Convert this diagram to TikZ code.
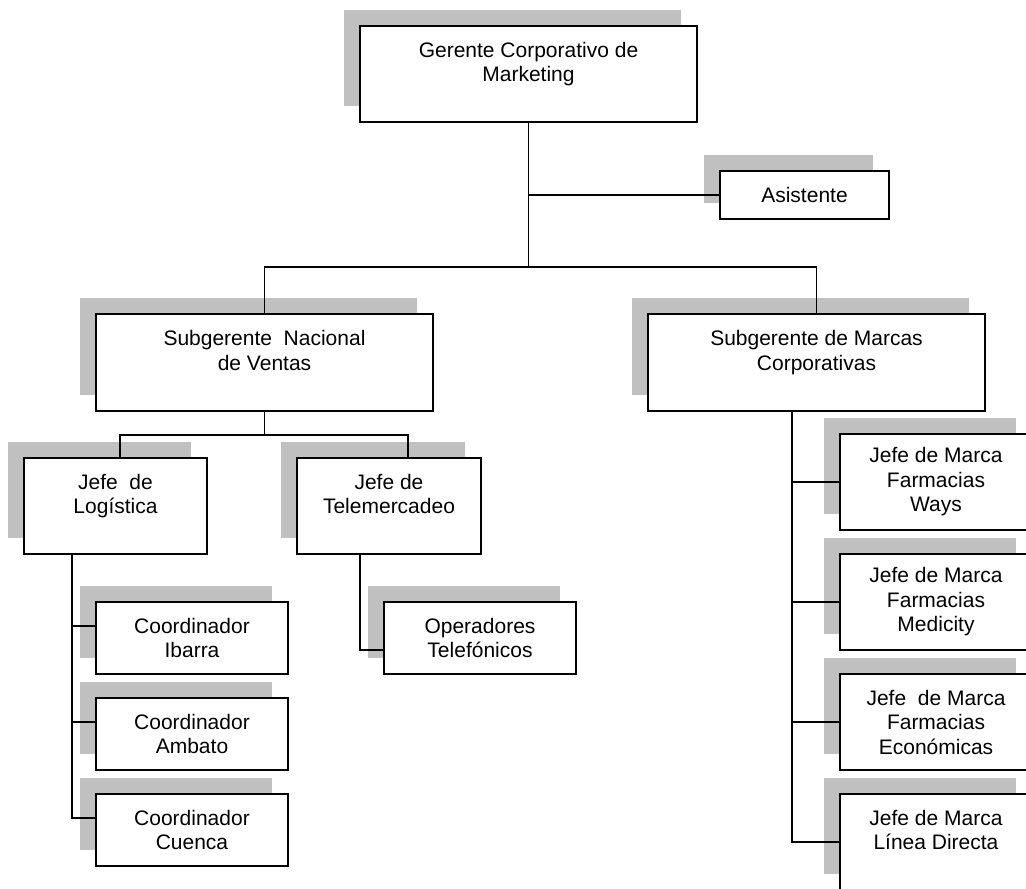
\documentclass[tikz,border=0pt]{standalone}
\usepackage{fontspec}
\setmainfont{Liberation Sans}
\usetikzlibrary{shadows}
\definecolor{shadowgray}{RGB}{192,192,192}

\begin{document}
\begin{tikzpicture}[x=1pt, y=-1pt, line width=1.8pt,
        box/.style={draw, fill=white, rectangle, align=center, inner sep=0pt,
            font=\fontsize{21}{24.5}\selectfont,
            drop shadow={shadow xshift=-16pt, shadow yshift=16pt, fill=shadowgray, opacity=1}}]
        \clip (0,0) rectangle (1026,889);

        \node[box, minimum width=337pt, minimum height=96pt] (gerente) at (528.5,74) {Gerente Corporativo de\\Marketing\\~};
        \node[box, minimum width=169pt, minimum height=48pt] (asist) at (804.5,195) {Asistente};
        \node[box, minimum width=337pt, minimum height=97pt] (snv) at (264.5,362.5) {Subgerente~ Nacional\\de Ventas\\~};
        \node[box, minimum width=337pt, minimum height=97pt] (smc) at (816.5,362.5) {Subgerente de Marcas\\Corporativas\\~};

        \node[box, minimum width=183pt, minimum height=96pt] (logist) at (115.5,506) {Jefe~ de\\Logística\\~};
        \node[box, minimum width=184pt, minimum height=96pt] (telem) at (389,506) {Jefe de\\Telemercadeo\\~};
        \node[box, minimum width=192pt, minimum height=72pt] (oper) at (480,638) {Operadores\\Telefónicos};

        \node[box, minimum width=192pt, minimum height=72pt] (ibarra) at (192,638) {Coordinador\\Ibarra};
        \node[box, minimum width=192pt, minimum height=72pt] (ambato) at (192,734) {Coordinador\\Ambato};
        \node[box, minimum width=192pt, minimum height=72pt] (cuenca) at (192,830) {Coordinador\\Cuenca};

        \node[box, minimum width=192pt, minimum height=96pt] (ways) at (936,482) {Jefe de Marca\\Farmacias\\Ways};
        \node[box, minimum width=192pt, minimum height=96pt] (medicity) at (936,602) {Jefe de Marca\\Farmacias\\Medicity};
        \node[box, minimum width=192pt, minimum height=96pt] (economicas) at (936,722) {Jefe~ de Marca\\Farmacias\\Económicas};
        \node[box, minimum width=192pt, minimum height=96pt] (directa) at (936,842) {Jefe de Marca\\Línea Directa\\~};

        \draw (gerente.south) -- ++(0,144) coordinate (bus);
        \draw (gerente.south |- asist.west) -- (asist.west);
        \draw (snv.north) |- (bus) -| (smc.north);

        \draw (snv.south) -- ++(0,23) -| ([xshift=4.5pt]logist.north);
        \draw (snv.south) ++(0,23) -| ([xshift=19pt]telem.north);
        \draw ([xshift=-29pt]telem.south) |- ([yshift=-12pt]oper.west);
        \foreach \n in {ibarra, ambato, cuenca}
            \draw ([xshift=-43.5pt]logist.south) |- ([yshift=12pt]\n.west);

        \foreach \n in {ways, medicity, economicas, directa}
            \draw ([xshift=-24.5pt]smc.south) |- (\n.west);
    \end{tikzpicture}
\end{document}
